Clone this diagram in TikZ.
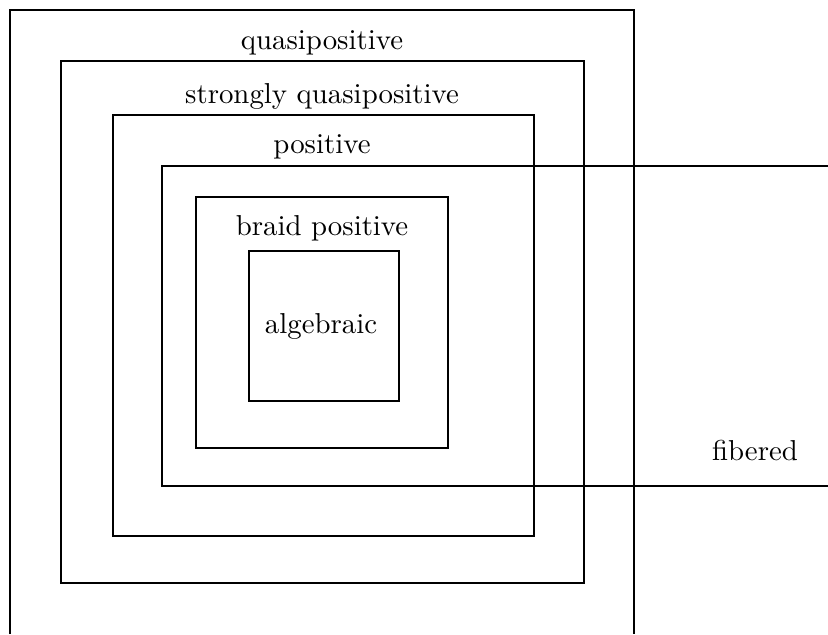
\documentclass[tikz,border=0pt]{standalone}
\usetikzlibrary{positioning}

\begin{document}
\begin{tikzpicture}[
  x=0.347pt, y=-0.347pt,
  box/.style={line width=0.8pt, draw=black},
  lbl/.style={anchor=base, inner sep=0pt}
]
  \useasboundingbox (0,0) rectangle (828,634);

  % --- Cajas anidadas ---
  \draw[box] (10,634) -- (10,10) -- (634,10) -- (634,634);   % abierta abajo
  \draw[box] (61,61) rectangle (584,583);
  \draw[box] (113,115) rectangle (534,536);
  \draw[box] (828,166) -- (162,166) -- (162,486) -- (828,486); % abierta a la derecha
  \draw[box] (196,197) rectangle (448,448);
  \draw[box] (249,251) rectangle (399,401);

  % --- Etiquetas ---
  \node[lbl] (qp)  at (322,49)  {quasipositive};
  \node[lbl] (sqp) at (322,103) {strongly quasipositive};
  \node[lbl] (pos) at (322,153) {positive};
  \node[lbl] (bp)  at (322,235) {braid positive};
  \node[lbl] (alg) at (321,333) {algebraic};
  \node[lbl] (fib) at (755,460) {fibered};
\end{tikzpicture}
\end{document}
